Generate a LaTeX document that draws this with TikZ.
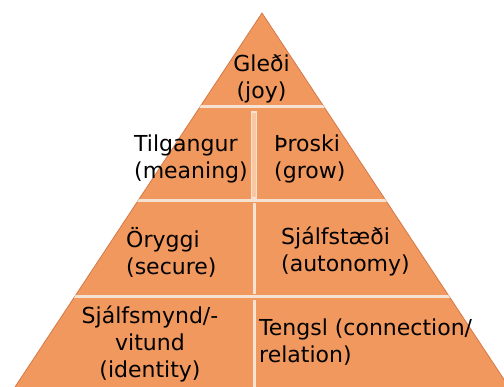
\documentclass[tikz,border=0pt]{standalone}
\usepackage{fontspec}
\setmainfont{DejaVu Sans}
\definecolor{pyr}{RGB}{241,152,94}
\definecolor{pyredge}{RGB}{214,120,70}
\definecolor{gap}{RGB}{246,226,210}
\definecolor{vbar}{RGB}{248,200,165}
\tikzset{
  lbl/.style={inner sep=0pt, font=\fontsize{22}{27}\selectfont, text=black, align=left},
  lblc/.style={lbl, align=center},
  hgap/.style={draw=gap, line width=3pt},
  vgap/.style={fill=vbar, draw=gap, line width=1.2pt},
}
\begin{document}
\begin{tikzpicture}[x=1pt,y=-1pt]
\useasboundingbox (0,0) rectangle (504,387);
\clip (0,0) rectangle (504,387);
\fill[white] (0,0) rectangle (504,387);
% pyramid
\coordinate (apex) at (262,13);
\coordinate (bl) at (15,387);
\coordinate (br) at (509,387);
\fill[pyr] (apex) -- (bl) -- (br) -- cycle;
\draw[pyredge, line width=0.8pt] (bl) -- (apex) -- (br);
\begin{scope}
\clip (apex) -- (bl) -- (br) -- cycle;
\draw[hgap] (0,107) -- (504,107);
\draw[hgap] (0,200.5) -- (504,200.5);
\draw[hgap] (0,297) -- (504,297);
\draw[vgap] (251.7,112) rectangle (256.3,198);
\fill[gap] (252.5,203) rectangle (255.5,294);
\fill[gap] (252.5,300) rectangle (255.5,390);
\end{scope}
% labels (anchor = baseline of last line)
\node[lblc, anchor=base] (joy) at (261.5,99) {Gleði\\(joy)};
\node[lbl, anchor=base west] (meaning) at (134,179) {Tilgangur\\(meaning)};
\node[lbl, anchor=base west] (grow) at (274,179) {Þroski\\(grow)};
\node[lbl, anchor=base west] (secure) at (126,275) {Öryggi\\(secure)};
\node[lbl, anchor=base west] (autonomy) at (281,272) {Sjálfstæði\\(autonomy)};
\node[lblc, anchor=base] (identity) at (150,378) {Sjálfsmynd/-\\vitund\\(identity)};
\node[lbl, anchor=base west] (connection) at (259,363) {Tengsl (connection/\\relation)};
\end{tikzpicture}
\end{document}
